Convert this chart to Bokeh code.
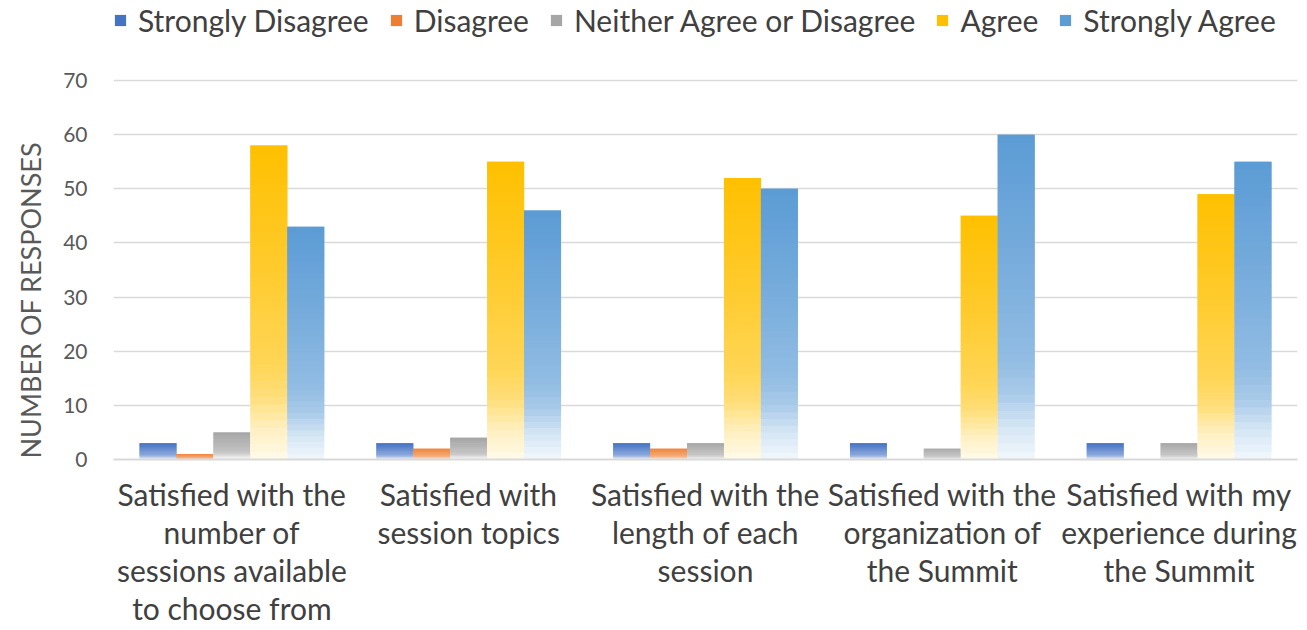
import numpy as np
from bokeh.plotting import figure
from bokeh.models import ColumnDataSource, FixedTicker, Legend, LegendItem, Title, Range1d
from bokeh.embed import file_html
from bokeh.resources import INLINE

# ---- data ----
categories = [
    "Satisfied with the\nnumber of\nsessions available\nto choose from",
    "Satisfied with\nsession topics",
    "Satisfied with the\nlength of each\nsession",
    "Satisfied with the\norganization of\nthe Summit",
    "Satisfied with my\nexperience during\nthe Summit",
]
series_names = ["Strongly Disagree", "Disagree", "Neither Agree or Disagree", "Agree", "Strongly Agree"]
strongly_disagree = [3, 3, 3, 3, 3]
disagree = [1, 2, 2, 0, 0]
neither = [5, 4, 3, 2, 3]
agree = [58, 55, 52, 45, 49]
strongly_agree = [43, 46, 50, 60, 55]
y_ticks = [0, 10, 20, 30, 40, 50, 60, 70]
y_axis_title = "NUMBER OF RESPONSES"

series_values = [strongly_disagree, disagree, neither, agree, strongly_agree]
colors = ["#4472C4", "#ED7D31", "#A5A5A5", "#FFC000", "#5B9BD5"]

FONT = "Lato"
N_SLICES = 40
BAR_W = 0.156
Y_TOP = 84.78   # frame runs to the top of the canvas so the legend fits inside it

def mix(hexc, g):
    r, gg, b = int(hexc[1:3], 16), int(hexc[3:5], 16), int(hexc[5:7], 16)
    r = round(255 * (1 - g) + r * g)
    gg = round(255 * (1 - g) + gg * g)
    b = round(255 * (1 - g) + b * g)
    return "#%02x%02x%02x" % (r, gg, b)

def strength(f):
    return float(np.interp(f, [0, 0.1, 0.2, 0.3, 0.6, 1.0], [0.08, 0.25, 0.52, 0.66, 0.82, 1.0]))

p = figure(width=1307, height=630, output_backend="svg", toolbar_location=None,
           x_range=Range1d(0.5, 5.5), y_range=Range1d(0, Y_TOP),
           min_border_left=113, min_border_right=10, min_border_top=0, min_border_bottom=171)
p.outline_line_color = None
p.background_fill_color = "white"
p.border_fill_color = "white"

n_series = len(series_values)
legend_items = []
for si, (name, vals, col) in enumerate(zip(series_names, series_values, colors)):
    offset = (si - (n_series - 1) / 2) * BAR_W
    L, R, B, T, C = [], [], [], [], []
    for ci, v in enumerate(vals):
        xc = ci + 1 + offset
        for k in range(N_SLICES):
            f = (k + 0.5) / N_SLICES
            L.append(xc - BAR_W / 2)
            R.append(xc + BAR_W / 2)
            B.append(v * k / N_SLICES)
            T.append(v * min(k + 2, N_SLICES) / N_SLICES)
            C.append(mix(col, strength(f)))
    src = ColumnDataSource(dict(left=L, right=R, bottom=B, top=T, color=C))
    r = p.quad(left="left", right="right", bottom="bottom", top="top", fill_color="color",
               line_color=None, source=src)
    legend_items.append(LegendItem(label=name, renderers=[r], index=N_SLICES - 1))

# grid / axes
p.xgrid.visible = False
p.ygrid.ticker = FixedTicker(ticks=y_ticks)
p.ygrid.grid_line_color = "#D9D9D9"
p.ygrid.grid_line_width = 1.3

p.yaxis.ticker = FixedTicker(ticks=y_ticks)
p.yaxis.axis_line_color = None
p.yaxis.major_tick_line_color = None
p.yaxis.minor_tick_line_color = None
p.yaxis.major_label_text_font = FONT
p.yaxis.major_label_text_font_size = "21px"
p.yaxis.major_label_text_color = "#595959"
p.yaxis.major_label_standoff = 20

p.xaxis.ticker = FixedTicker(ticks=[1, 2, 3, 4, 5])
p.xaxis.major_label_overrides = {i + 1: c for i, c in enumerate(categories)}
p.xaxis.axis_line_color = "#D9D9D9"
p.xaxis.axis_line_width = 2
p.xaxis.major_tick_line_color = None
p.xaxis.minor_tick_line_color = None
p.xaxis.major_label_text_font = FONT
p.xaxis.major_label_text_font_size = "30px"
p.xaxis.major_label_text_color = "#404040"
p.xaxis.major_label_text_line_height = 1.06
p.xaxis.major_label_standoff = 10

ytitle = Title(text=y_axis_title, align="left", offset=1, standoff=24, vertical_align="top",
               text_font=FONT, text_font_size="27px", text_font_style="normal",
               text_color="#595959")
p.add_layout(ytitle, "left")

legend = Legend(items=legend_items, orientation="horizontal", location=(0, 421),
                spacing=20, label_standoff=11, glyph_width=14, glyph_height=14,
                padding=0, margin=0, border_line_color=None, background_fill_alpha=0,
                label_text_font=FONT, label_text_font_size="30px", label_text_color="#404040")
p.add_layout(legend)

open("out.html", "w").write(file_html(p, INLINE))
